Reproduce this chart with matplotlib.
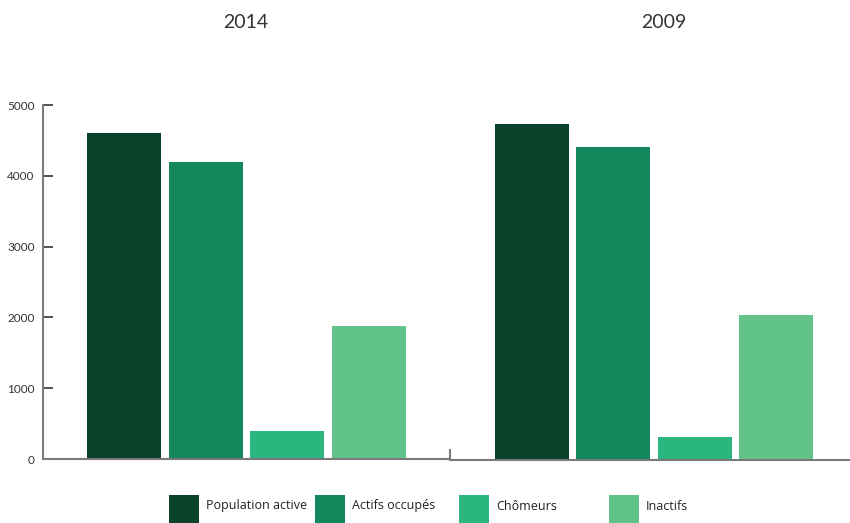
import matplotlib
matplotlib.use("Agg")
import matplotlib.pyplot as plt
from matplotlib.patches import Rectangle

categories = ["Population active", "Actifs occupés", "Chômeurs", "Inactifs"]
years = ["2014", "2009"]
values_2014 = [4600, 4190, 400, 1880]
values_2009 = [4740, 4420, 320, 2050]
colors = ["#09412a", "#12875b", "#2bb67f", "#62c38a"]
yticks = [0, 1000, 2000, 3000, 4000, 5000]

W, H = 850, 523
fig = plt.figure(figsize=(W / 100, H / 100), dpi=100)

def px_rect(x0, x1, y_base, y_top):
    return [x0 / W, (H - y_base) / H, (x1 - x0) / W, (y_base - y_top) / H]

ax1 = fig.add_axes(px_rect(43, 450, 459, 105))
ax2 = fig.add_axes(px_rect(450, 850, 460, 106))

x = list(range(len(categories)))
ax1.bar(x, values_2014, width=0.906, color=colors)
ax2.bar(x, values_2009, width=0.91, color=colors)

ax1.set_xlim(-0.99, 3.99)
ax2.set_xlim(-1.01, 3.91)
for ax in (ax1, ax2):
    ax.set_ylim(0, 5000)
    ax.set_xticks([])
    ax.spines["top"].set_visible(False)
    ax.spines["right"].set_visible(False)
    ax.spines["bottom"].set_color("#7a7a7a")
    ax.spines["bottom"].set_linewidth(1.5)
    ax.spines["left"].set_color("#7a7a7a")
    ax.spines["left"].set_linewidth(1.5)

ax1.set_yticks(yticks)
ax1.set_yticklabels([str(v) for v in yticks], fontsize=8.5, color="#333333",
                    family="Lato")
ax1.tick_params(axis="y", direction="in", length=7.5, width=1.2,
                color="#333333", pad=6)

ax2.set_yticks([])
ax2.spines["left"].set_bounds(0, 140)

ax1.set_title(years[0], fontsize=14, family="Lato", color="#333333", pad=0, y=1.0)
ax1.title.set_position((0.5, 1.0))
fig.text(246 / W, 1 - 22 / H, years[0], ha="center", va="center",
         fontsize=14, family="Lato", color="#333333")
fig.text(664 / W, 1 - 22 / H, years[1], ha="center", va="center",
         fontsize=14, family="Lato", color="#333333")
ax1.set_title("")

# legend
sq_x = [169, 315, 459, 609]
for sx, c, lab in zip(sq_x, colors, categories):
    fig.add_artist(Rectangle((sx / W, 1 - 524 / H), 30 / W, 29 / H,
                             transform=fig.transFigure, color=c, lw=0))
    fig.text((sx + 37) / W, 1 - 506 / H, lab, ha="left", va="center",
             fontsize=9, family="Open Sans", color="#222222")

fig.savefig("out.png", dpi=100)
